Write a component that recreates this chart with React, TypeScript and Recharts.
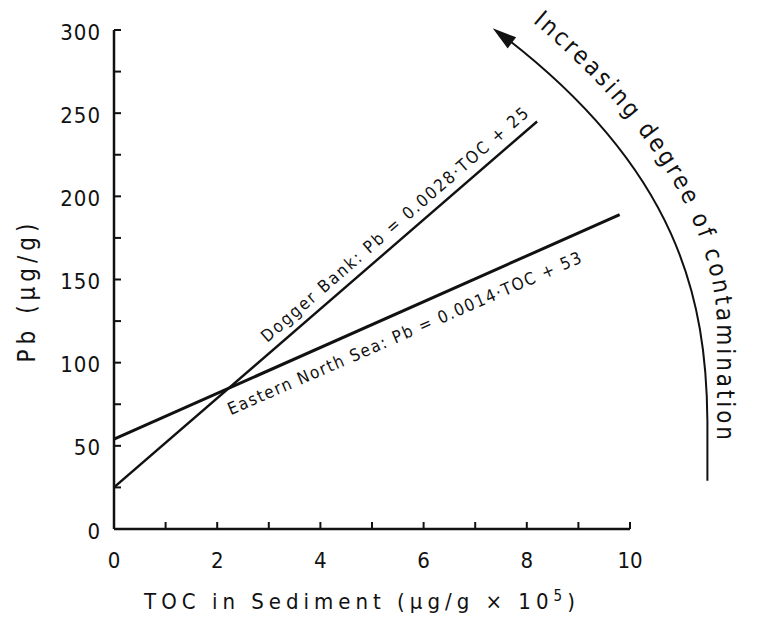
import { Customized, Line, LineChart, XAxis, YAxis } from 'recharts'

// chart values
const TOC_TICKS = [0, 1, 2, 3, 4, 5, 6, 7, 8, 9, 10]
const PB_TICKS = [0, 25, 50, 75, 100, 125, 150, 175, 200, 225, 250, 275, 300]
const DOGGER_BANK = [
  { toc: 0, pb: 25 },
  { toc: 8.2, pb: 245 },
]
const EASTERN_NORTH_SEA = [
  { toc: 0, pb: 54 },
  { toc: 9.8, pb: 189 },
]
const DOGGER_LABEL = 'Dogger Bank: Pb = 0.0028·TOC + 25'
const EASTERN_LABEL = 'Eastern North Sea: Pb = 0.0014·TOC + 53'
const X_TITLE = 'TOC in Sediment (µg/g × 10'
const X_TITLE_EXP = '5'
const Y_TITLE = 'Pb (µg/g)'
const ARROW_TEXT = 'Increasing degree of contamination'

const FONT = "'DejaVu Sans Condensed', 'DejaVu Sans', sans-serif"
const INK = '#111'

const WIDTH = 765
const HEIGHT = 629
const MARGIN = { top: 30, right: 135, left: 0, bottom: 0 }
const Y_AXIS_WIDTH = 114
const X_AXIS_HEIGHT = 100

// plot geometry, mirrors the margins above (used for the annotations only)
const PLOT_LEFT = MARGIN.left + Y_AXIS_WIDTH
const PLOT_RIGHT = WIDTH - MARGIN.right
const PLOT_TOP = MARGIN.top
const PLOT_BOTTOM = HEIGHT - MARGIN.bottom - X_AXIS_HEIGHT
const sx = (v: number) => PLOT_LEFT + (v / 10) * (PLOT_RIGHT - PLOT_LEFT)
const sy = (v: number) => PLOT_BOTTOM - (v / 300) * (PLOT_BOTTOM - PLOT_TOP)

function PbTick({ x, y, payload }: any) {
  const v = payload.value as number
  return (
    <g>
      <line x1={x} x2={x + 7} y1={y} y2={y} stroke={INK} strokeWidth={2} />
      {v % 50 === 0 && (
        <text
          x={x - 13}
          y={y + 2}
          textAnchor="end"
          dominantBaseline="central"
          fontSize={22}
          fontFamily={FONT}
          letterSpacing={1}
          fill={INK}
        >
          {v}
        </text>
      )}
    </g>
  )
}

function TocTick({ x, y, payload }: any) {
  const v = payload.value as number
  return (
    <g>
      <line x1={x} x2={x} y1={y} y2={y - 7} stroke={INK} strokeWidth={2} />
      {v % 2 === 0 && (
        <text
          x={x}
          y={y + 31}
          textAnchor="middle"
          dominantBaseline="central"
          fontSize={22}
          fontFamily={FONT}
          fill={INK}
        >
          {v}
        </text>
      )}
    </g>
  )
}

function Annotations() {
  // curved arrow, drawn in plot units
  const p0 = [sx(11.5), sy(29)]
  const p1 = [sx(11.5), sy(65)]
  const c1 = [sx(11.48), sy(137)]
  const c2 = [sx(10.97), sy(216)]
  const end = [sx(7.48), sy(298)]
  const tip = [sx(7.34), sy(301)]
  const dx = tip[0] - c2[0]
  const dy = tip[1] - c2[1]
  const len = Math.hypot(dx, dy)
  const ux = dx / len
  const uy = dy / len
  const bx = tip[0] - ux * 24
  const by = tip[1] - uy * 24
  const head = `${tip[0]},${tip[1]} ${bx - uy * 7},${by + ux * 7} ${bx + uy * 7},${by - ux * 7}`

  // baseline of the curved caption, outside the arrow
  const textPath = `M ${sx(7.87)} ${sy(311)} C ${sx(10.19)} ${sy(252)}, ${sx(11.67)} ${sy(186)}, ${sx(11.69)} ${sy(120)} L ${sx(11.69)} ${sy(0)}`

  return (
    <g>
      <path
        d={`M ${p0[0]} ${p0[1]} L ${p1[0]} ${p1[1]} C ${c1[0]} ${c1[1]}, ${c2[0]} ${c2[1]}, ${end[0]} ${end[1]}`}
        fill="none"
        stroke={INK}
        strokeWidth={2}
      />
      <polygon points={head} fill={INK} />
      <path id="arrow-text-path" d={textPath} fill="none" stroke="none" />
      <text fontSize={24} fontFamily={FONT} fill={INK} letterSpacing={2.9}>
        <textPath href="#arrow-text-path" startOffset={16}>
          {ARROW_TEXT}
        </textPath>
      </text>

      <text
        transform={`translate(${sx(5.45)},${sy(183.4)}) rotate(-41)`}
        textAnchor="middle"
        dominantBaseline="central"
        fontSize={17}
        fontFamily={FONT}
        letterSpacing={2}
        fill={INK}
      >
        {DOGGER_LABEL}
      </text>
      <text
        transform={`translate(${sx(5.64)},${sy(117.9)}) rotate(-23.5)`}
        textAnchor="middle"
        dominantBaseline="central"
        fontSize={17}
        fontFamily={FONT}
        letterSpacing={1.6}
        fill={INK}
      >
        {EASTERN_LABEL}
      </text>

      <text
        x={362}
        y={sy(0) + 80}
        textAnchor="middle"
        fontSize={22}
        fontFamily={FONT}
        letterSpacing={5}
        fill={INK}
      >
        {X_TITLE}
        <tspan dy={-8} fontSize={15}>
          {X_TITLE_EXP}
        </tspan>
        <tspan dy={8}>)</tspan>
      </text>
      <text
        transform={`translate(27,${(PLOT_TOP + PLOT_BOTTOM) / 2 + 11}) rotate(-90)`}
        textAnchor="middle"
        dominantBaseline="central"
        fontSize={24}
        fontFamily={FONT}
        letterSpacing={5}
        fill={INK}
      >
        {Y_TITLE}
      </text>
    </g>
  )
}

export default function App() {
  return (
    <div style={{ position: 'absolute', left: 0, top: 0, background: '#fff' }}>
      <LineChart width={WIDTH} height={HEIGHT} margin={MARGIN}>
        <XAxis
          type="number"
          dataKey="toc"
          domain={[0, 10]}
          ticks={TOC_TICKS}
          interval={0}
          height={X_AXIS_HEIGHT}
          tickSize={0}
          tickMargin={0}
          tickLine={false}
          axisLine={{ stroke: INK, strokeWidth: 2.5 }}
          tick={<TocTick />}
          allowDataOverflow
        />
        <YAxis
          type="number"
          dataKey="pb"
          domain={[0, 300]}
          ticks={PB_TICKS}
          interval={0}
          width={Y_AXIS_WIDTH}
          tickSize={0}
          tickMargin={0}
          tickLine={false}
          axisLine={{ stroke: INK, strokeWidth: 2.5 }}
          tick={<PbTick />}
          allowDataOverflow
        />
        <Line
          data={DOGGER_BANK}
          dataKey="pb"
          stroke={INK}
          strokeWidth={2.4}
          dot={false}
          activeDot={false}
          isAnimationActive={false}
        />
        <Line
          data={EASTERN_NORTH_SEA}
          dataKey="pb"
          stroke={INK}
          strokeWidth={3}
          dot={false}
          activeDot={false}
          isAnimationActive={false}
        />
        <Customized component={Annotations} />
      </LineChart>
    </div>
  )
}
